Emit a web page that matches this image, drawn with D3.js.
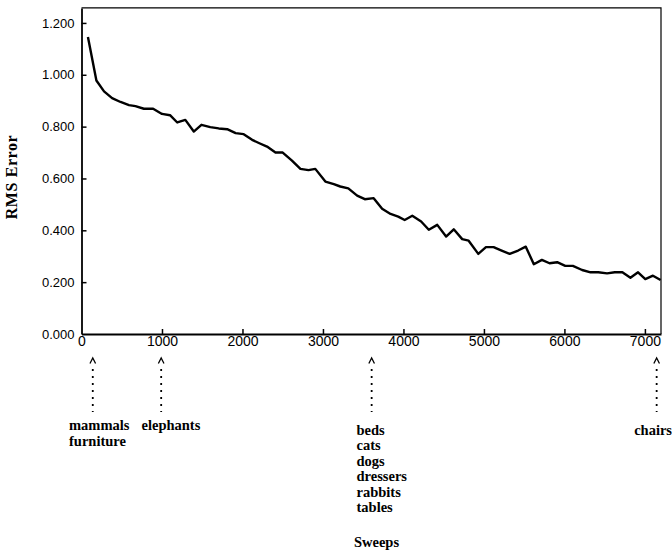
<!DOCTYPE html>
<html>
<head>
<meta charset="utf-8">
<script src="https://cdn.jsdelivr.net/npm/d3@7"></script>
<style>
  html, body { margin: 0; padding: 0; background: #fff; }
  svg { display: block; }
</style>
</head>
<body>
<svg id="chart" width="672" height="554"></svg>
<script>
// ---- data ----
const sweeps = [80, 185, 280, 380, 485, 590, 670, 775, 890, 1000, 1100, 1190, 1290, 1395, 1490,
  1600, 1705, 1810, 1915, 2015, 2120, 2210, 2305, 2410, 2500, 2615, 2720, 2820, 2905, 3030,
  3135, 3215, 3315, 3425, 3520, 3630, 3735, 3840, 3935, 4015, 4110, 4220, 4315, 4420, 4530,
  4625, 4730, 4810, 4930, 5025, 5120, 5220, 5320, 5425, 5520, 5620, 5720, 5815, 5910, 6010,
  6105, 6220, 6325, 6420, 6530, 6625, 6720, 6820, 6915, 7005, 7100, 7195];
const rmsError = [1.146, 0.978, 0.936, 0.910, 0.895, 0.883, 0.879, 0.869, 0.869, 0.849, 0.844, 0.816, 0.826, 0.781, 0.807,
  0.798, 0.793, 0.790, 0.775, 0.771, 0.749, 0.736, 0.723, 0.700, 0.700, 0.669, 0.637, 0.632, 0.637, 0.588,
  0.578, 0.569, 0.562, 0.534, 0.520, 0.524, 0.483, 0.463, 0.453, 0.440, 0.456, 0.434, 0.402, 0.421, 0.376,
  0.404, 0.366, 0.360, 0.309, 0.335, 0.335, 0.322, 0.309, 0.322, 0.337, 0.269, 0.286, 0.273, 0.277, 0.263,
  0.263, 0.247, 0.238, 0.238, 0.234, 0.238, 0.238, 0.217, 0.238, 0.212, 0.225, 0.208];
const xTicks = [0, 1000, 2000, 3000, 4000, 5000, 6000, 7000];
const yTicks = [0, 0.2, 0.4, 0.6, 0.8, 1.0, 1.2];
const eventSweeps = [140, 990, 3605, 7146];
const eventLabels = [["mammals", "furniture"], ["elephants"],
  ["beds", "cats", "dogs", "dressers", "rabbits", "tables"], ["chairs"]];
const eventLabelAnchor = ["start", "start", "start", "end"];
const xTitle = "Sweeps";
const yTitle = "RMS Error";

// ---- layout ----
const svg = d3.select("#chart");
const mLeft = 81.5, mRight = 661, mBottom = 334, mTop = 7.9;
const x = d3.scaleLinear().domain([0, 7200]).range([mLeft, mRight]);
const y = d3.scaleLinear().domain([0, 1.258]).range([mBottom, mTop]);

const serif = "'Liberation Serif', 'Times New Roman', serif";
const sans = "'Liberation Sans', Arial, Helvetica, sans-serif";

// frame (top, right)
svg.append("path")
  .attr("d", `M${mLeft},${mTop}H${mRight}V${mBottom}`)
  .attr("fill", "none").attr("stroke", "#000").attr("stroke-width", 1.2);

// x axis
const xAxis = svg.append("g").attr("transform", `translate(0,${mBottom})`)
  .call(d3.axisBottom(x).tickValues(xTicks).tickFormat(d3.format("d"))
    .tickSizeInner(-5).tickSizeOuter(0).tickPadding(4));
xAxis.select(".domain").attr("stroke-width", 1.8);
xAxis.selectAll(".tick line").attr("stroke-width", 1.5);
xAxis.selectAll("text").attr("font-family", sans).attr("font-size", 14).attr("fill", "#000")
  .attr("dy", "0.71em").attr("y", 2);
xAxis.selectAll(".tick").filter(d => d === 0).select("line").remove();

// y axis
const yAxis = svg.append("g").attr("transform", `translate(${mLeft},0)`)
  .call(d3.axisLeft(y).tickValues(yTicks).tickFormat(d3.format(".3f"))
    .tickSizeInner(-5).tickSizeOuter(0).tickPadding(7));
yAxis.select(".domain").attr("stroke-width", 1.8);
yAxis.selectAll(".tick line").attr("stroke-width", 1.5);
yAxis.selectAll("text").attr("font-family", sans).attr("font-size", 13).attr("fill", "#000");
yAxis.selectAll(".tick").filter(d => d === 0).select("line").remove();

// curve
const pts = sweeps.map((s, i) => [s, rmsError[i]]);
svg.append("path").datum(pts)
  .attr("d", d3.line().x(d => x(d[0])).y(d => y(d[1])))
  .attr("fill", "none").attr("stroke", "#000").attr("stroke-width", 2.4)
  .attr("stroke-linejoin", "round");

// event arrows
const labelStartX = [69, 141.5, 356.5, 672];
const labelBaseY = [430, 430, 434.5, 434.5];
eventSweeps.forEach((s, i) => {
  const ex = x(s);
  svg.append("path")
    .attr("d", `M${ex - 2.8},${363.5}L${ex},${358}L${ex + 2.8},${363.5}`)
    .attr("fill", "none").attr("stroke", "#000").attr("stroke-width", 1.3);
  svg.append("line")
    .attr("x1", ex).attr("x2", ex).attr("y1", 369).attr("y2", 412)
    .attr("stroke", "#000").attr("stroke-width", 1.8)
    .attr("stroke-dasharray", "2,5");
  const t = svg.append("text")
    .attr("font-family", serif).attr("font-weight", "bold").attr("font-size", 14.5)
    .attr("text-anchor", eventLabelAnchor[i]).attr("fill", "#000");
  eventLabels[i].forEach((lab, j) => {
    t.append("tspan").attr("x", labelStartX[i]).attr("y", labelBaseY[i] + j * 15.5).text(lab);
  });
});

// axis titles
svg.append("text")
  .attr("x", 376.5).attr("y", 547)
  .attr("text-anchor", "middle")
  .attr("font-family", serif).attr("font-weight", "bold").attr("font-size", 14.5)
  .text(xTitle);
svg.append("text")
  .attr("transform", "translate(17,177) rotate(-90)")
  .attr("text-anchor", "middle")
  .attr("font-family", serif).attr("font-weight", "bold").attr("font-size", 16)
  .attr("letter-spacing", 0.6)
  .text(yTitle);
</script>
</body>
</html>
